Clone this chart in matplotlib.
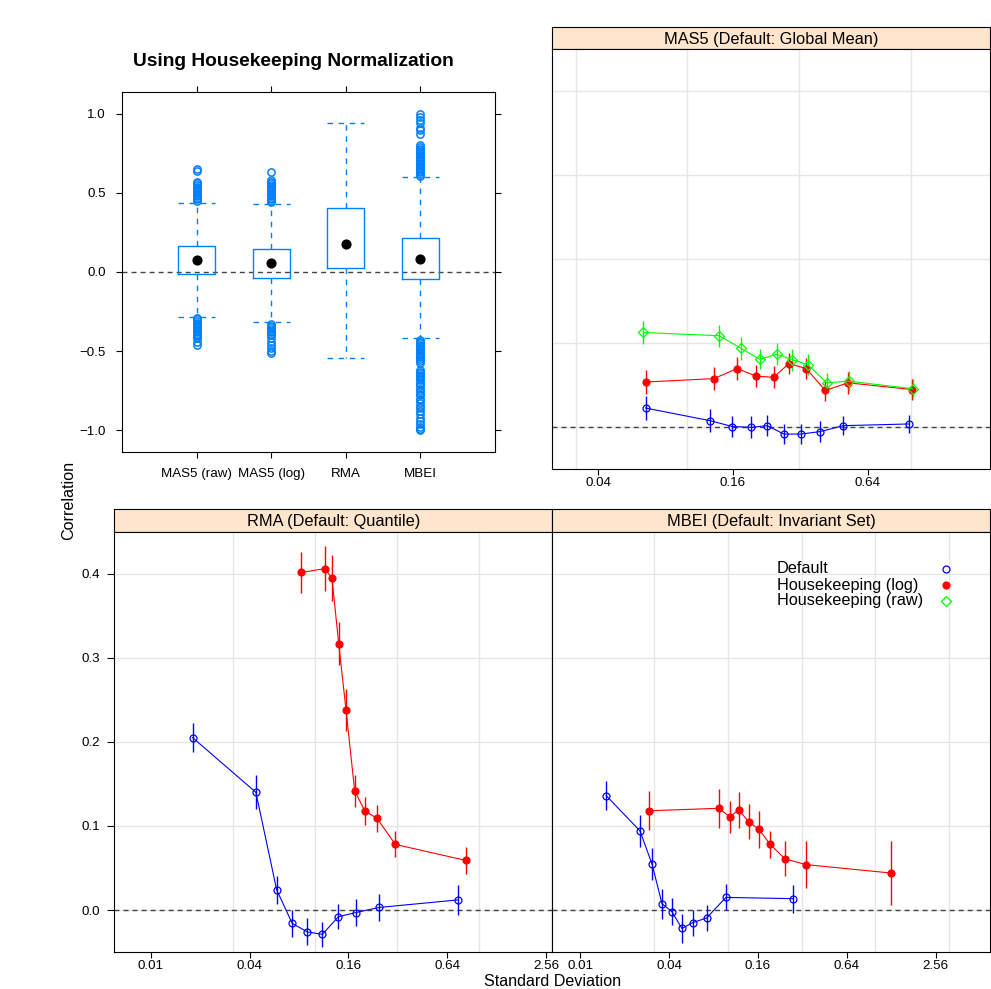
import numpy as np
import matplotlib
matplotlib.use("Agg")
import matplotlib.pyplot as plt
from matplotlib.ticker import FixedLocator, NullFormatter

plt.rcParams['font.family'] = ['Liberation Sans', 'DejaVu Sans']

W, H = 991, 989

# ---- boxplot summary (Using Housekeeping Normalization) ----
box_labels = ["MAS5 (raw)", "MAS5 (log)", "RMA", "MBEI"]
box_q1 = [-0.015, -0.038, 0.023, -0.042]
box_med = [0.074, 0.055, 0.179, 0.080]
box_q3 = [0.164, 0.147, 0.404, 0.215]
box_whislo = [-0.284, -0.319, -0.545, -0.420]
box_whishi = [0.438, 0.429, 0.941, 0.600]

fliers_mas5_raw = [0.45, 0.46, 0.47, 0.48, 0.49, 0.50, 0.51, 0.52, 0.53, 0.54, 0.55, 0.56, 0.57, 0.64, 0.65,
                   -0.29, -0.30, -0.31, -0.32, -0.33, -0.34, -0.35, -0.36, -0.37, -0.38, -0.39, -0.40,
                   -0.41, -0.42, -0.44, -0.46]
fliers_mas5_log = [0.44, 0.45, 0.46, 0.47, 0.48, 0.49, 0.50, 0.51, 0.52, 0.53, 0.54, 0.55, 0.56, 0.57, 0.58, 0.63,
                   -0.33, -0.34, -0.35, -0.36, -0.37, -0.38, -0.39, -0.40, -0.42, -0.44, -0.46, -0.48,
                   -0.50, -0.51]
fliers_rma = []
fliers_mbei = [0.61, 0.62, 0.63, 0.64, 0.65, 0.66, 0.67, 0.68, 0.69, 0.70, 0.71, 0.72, 0.73, 0.74, 0.75,
               0.76, 0.77, 0.78, 0.79, 0.80, 0.87, 0.90, 0.91, 0.94, 0.96, 0.98, 1.00,
               -0.43, -0.44, -0.45, -0.46, -0.47, -0.48, -0.49, -0.50, -0.51, -0.52, -0.53, -0.54,
               -0.55, -0.56, -0.575, -0.62, -0.63, -0.64, -0.65, -0.66, -0.67, -0.68, -0.70, -0.71,
               -0.72, -0.74, -0.75, -0.77, -0.78, -0.80, -0.81, -0.83, -0.85, -0.86, -0.88, -0.90,
               -0.92, -0.94, -0.96, -0.98, -0.99, -1.00]
box_fliers = [fliers_mas5_raw, fliers_mas5_log, fliers_rma, fliers_mbei]

# ---- correlation vs standard deviation panels ----
sd_mas5_def = [0.065, 0.126, 0.159, 0.193, 0.228, 0.270, 0.322, 0.394, 0.498, 0.976]
cor_mas5_def = [0.023, 0.008, 0.001, 0.000, 0.002, -0.008, -0.008, -0.005, 0.002, 0.004]
err_mas5_def = [0.014, 0.014, 0.013, 0.013, 0.0125, 0.012, 0.012, 0.012, 0.0115, 0.011]
sd_mas5_log = [0.0653, 0.1315, 0.167, 0.203, 0.243, 0.285, 0.340, 0.414, 0.524, 1.013]
cor_mas5_log = [0.054, 0.058, 0.070, 0.061, 0.0595, 0.076, 0.070, 0.044, 0.053, 0.045]
err_mas5_log = [0.014, 0.0137, 0.014, 0.0127, 0.013, 0.013, 0.0125, 0.0123, 0.0133, 0.012]
sd_mas5_raw = [0.0634, 0.139, 0.174, 0.211, 0.251, 0.295, 0.347, 0.420, 0.528, 1.017]
cor_mas5_raw = [0.113, 0.109, 0.094, 0.081, 0.087, 0.0805, 0.0745, 0.053, 0.055, 0.046]
err_mas5_raw = [0.014, 0.013, 0.014, 0.012, 0.013, 0.013, 0.0125, 0.012, 0.012, 0.011]

sd_rma_def = [0.0180, 0.0437, 0.0585, 0.0728, 0.0899, 0.111, 0.139, 0.178, 0.245, 0.743]
cor_rma_def = [0.205, 0.140, 0.024, -0.016, -0.026, -0.029, -0.008, -0.003, 0.003, 0.012]
err_rma_def = [0.017, 0.020, 0.017, 0.016, 0.016, 0.015, 0.015, 0.0155, 0.0155, 0.0175]
sd_rma_log = [0.0826, 0.1147, 0.127, 0.1396, 0.1547, 0.1746, 0.201, 0.239, 0.309, 0.828]
cor_rma_log = [0.4015, 0.406, 0.395, 0.317, 0.238, 0.142, 0.118, 0.109, 0.078, 0.059]
err_rma_log = [0.024, 0.027, 0.027, 0.026, 0.0245, 0.019, 0.017, 0.016, 0.0155, 0.016]

sd_mbei_def = [0.0150, 0.0254, 0.0306, 0.0358, 0.0418, 0.0489, 0.0578, 0.0718, 0.0970, 0.276]
cor_mbei_def = [0.136, 0.094, 0.055, 0.0075, -0.002, -0.022, -0.015, -0.0095, 0.015, 0.0135]
err_mbei_def = [0.017, 0.0195, 0.019, 0.018, 0.016, 0.0175, 0.0155, 0.0155, 0.0155, 0.0165]
sd_mbei_log = [0.0290, 0.0867, 0.1029, 0.119, 0.1384, 0.1625, 0.1938, 0.2436, 0.338, 1.273]
cor_mbei_log = [0.118, 0.121, 0.111, 0.119, 0.105, 0.096, 0.078, 0.061, 0.054, 0.044]
err_mbei_log = [0.023, 0.023, 0.019, 0.021, 0.0205, 0.022, 0.0165, 0.0205, 0.0275, 0.0385]

x_ticks = [0.01, 0.04, 0.16, 0.64, 2.56]
x_ticklabels = ["0.01", "0.04", "0.16", "0.64", "2.56"]
y_ticks = [0.0, 0.1, 0.2, 0.3, 0.4]
y_ticklabels = ["0.0", "0.1", "0.2", "0.3", "0.4"]
legend_labels = ["Default", "Housekeeping (log)", "Housekeeping (raw)"]

BLUE, RED, GREEN = "#0000ff", "#ff0000", "#00ff00"
BOXBLUE = "#0080ff"
STRIP = "#ffe5cc"


def rect(l, t, r, b):
    return [l / W, 1 - b / H, (r - l) / W, (b - t) / H]


fig = plt.figure(figsize=(W / 100, H / 100), dpi=100)

# ---------------- boxplot ----------------
axb = fig.add_axes(rect(122, 91.7, 495, 452.3))
stats = []
for i in range(4):
    stats.append(dict(med=box_med[i], q1=box_q1[i], q3=box_q3[i],
                      whislo=box_whislo[i], whishi=box_whishi[i], fliers=box_fliers[i]))
pos = [1, 2, 3, 4]
axb.bxp(stats, positions=pos, widths=0.5, showfliers=True,
        boxprops=dict(color=BOXBLUE, lw=1.0),
        whiskerprops=dict(color=BOXBLUE, lw=1.0, linestyle=(0, (4, 4))),
        capprops=dict(color=BOXBLUE, lw=1.0, linestyle=(0, (4, 4))),
        capwidths=0.5,
        medianprops=dict(visible=False),
        flierprops=dict(marker='o', markerfacecolor='none', markeredgecolor=BOXBLUE,
                        markersize=5.2, markeredgewidth=1.1))
axb.plot(pos, box_med, 'o', color='black', ms=6.3, zorder=5)
axb.axhline(0, color='#444444', lw=1.0, linestyle=(0, (3.6, 2.9)), zorder=1)
axb.set_xlim(0, 5)
axb.set_ylim(-1.14, 1.14)
axb.set_yticks([-1.0, -0.5, 0.0, 0.5, 1.0])
axb.set_yticklabels(["\u22121.0", "\u22120.5", "0.0", "0.5", "1.0"])
axb.set_xticks(pos)
axb.set_xticklabels(box_labels)
axb.tick_params(direction='out', length=4.5, width=0.8, top=True, right=True,
                labelsize=9.6, colors='black')
axb.tick_params(axis='y', pad=7)
axb.tick_params(axis='x', pad=7)
for sp in axb.spines.values():
    sp.set_linewidth(0.8)
fig.text(293 / W, 1 - 61.7 / H, "Using Housekeeping Normalization",
         fontsize=13.8, fontweight='bold', ha='center', va='center')


# ---------------- xyplot panels ----------------
def panel(l, r, t, b, title, xlim, series, show_y, legend=False):
    st = fig.add_axes(rect(l, t - 22.4, r, t))
    st.set_facecolor(STRIP)
    st.set_xticks([])
    st.set_yticks([])
    for sp in st.spines.values():
        sp.set_linewidth(0.8)
    st.text(0.5, 0.45, title, transform=st.transAxes, ha='center', va='center', fontsize=11.8)

    ax = fig.add_axes(rect(l, t, r, b))
    ax.set_xscale('log')
    ax.set_xlim(*xlim)
    ax.set_ylim(-0.0496, 0.450)
    ax.set_axisbelow(True)
    ax.xaxis.set_major_locator(FixedLocator(x_ticks))
    ax.set_xticklabels(x_ticklabels)
    ax.xaxis.set_minor_locator(FixedLocator(10 ** np.arange(-2.5, 1.01, 0.5)))
    ax.xaxis.set_minor_formatter(NullFormatter())
    ax.set_yticks(y_ticks)
    ax.set_yticklabels(y_ticklabels)
    ax.grid(False)
    ax.grid(True, axis='x', which='minor', color='#e6e6e6', lw=1.0)
    ax.grid(True, axis='y', which='major', color='#e6e6e6', lw=1.0)
    ax.tick_params(axis='x', which='minor', length=0)
    ax.tick_params(axis='x', which='major', direction='out', length=4, width=0.8,
                   labelsize=9.6, pad=2)
    if show_y:
        ax.tick_params(axis='y', direction='out', length=5, width=0.8, labelsize=9.6, pad=5)
    else:
        ax.tick_params(axis='y', left=False, labelleft=False)
    for sp in ax.spines.values():
        sp.set_linewidth(0.8)
    ax.axhline(0, color='#444444', lw=1.0, linestyle=(0, (3.6, 2.9)), zorder=1.5)

    for sd, cor, err, col, mk, fill in series:
        ax.errorbar(sd, cor, yerr=err, fmt='none', ecolor=col, elinewidth=1.0, capsize=0, zorder=2)
        ax.plot(sd, cor, color=col, lw=0.8, marker=mk, ms=5 if mk == 'o' else 4.7,
                markerfacecolor=col if fill else 'none', markeredgecolor=col,
                markeredgewidth=0.9, zorder=3)
    if legend:
        # key: text left-aligned, symbols in a column on the right
        key_y = [0.9112, 0.8724, 0.8357]
        key_style = [dict(marker='o', ms=5, markerfacecolor='none', markeredgecolor=BLUE),
                     dict(marker='o', ms=5, markerfacecolor=RED, markeredgecolor=RED),
                     dict(marker='D', ms=4.7, markerfacecolor='none', markeredgecolor=GREEN)]
        for lab, yy, sty in zip(legend_labels, key_y, key_style):
            ax.text(0.513, yy, lab, transform=ax.transAxes, ha='left', va='center', fontsize=11.7)
            ax.plot([0.898], [yy], transform=ax.transAxes, linestyle='none',
                    markeredgewidth=0.9, clip_on=False, **sty)
    return ax


panel(552.3, 990.5, 49.4, 469, "MAS5 (Default: Global Mean)", (10 ** -1.604, 10 ** 0.356),
      [(sd_mas5_def, cor_mas5_def, err_mas5_def, BLUE, 'o', False),
       (sd_mas5_log, cor_mas5_log, err_mas5_log, RED, 'o', True),
       (sd_mas5_raw, cor_mas5_raw, err_mas5_raw, GREEN, 'D', False)], show_y=False)

panel(114.3, 552.3, 531.7, 951.7, "RMA (Default: Quantile)", (10 ** -2.2217, 10 ** 0.4458),
      [(sd_rma_def, cor_rma_def, err_rma_def, BLUE, 'o', False),
       (sd_rma_log, cor_rma_log, err_rma_log, RED, 'o', True)], show_y=True)

panel(552.3, 990.5, 531.7, 951.7, "MBEI (Default: Invariant Set)", (10 ** -2.1897, 10 ** 0.7805),
      [(sd_mbei_def, cor_mbei_def, err_mbei_def, BLUE, 'o', False),
       (sd_mbei_log, cor_mbei_log, err_mbei_log, RED, 'o', True)], show_y=False, legend=True)

fig.text(69 / W, 1 - 500 / H, "Correlation", rotation=90, fontsize=11.6, ha='center', va='center')
fig.text(552.5 / W, 1 - 988.5 / H, "Standard Deviation", fontsize=11.6, ha='center', va='bottom')

fig.savefig("out.png", dpi=100)
